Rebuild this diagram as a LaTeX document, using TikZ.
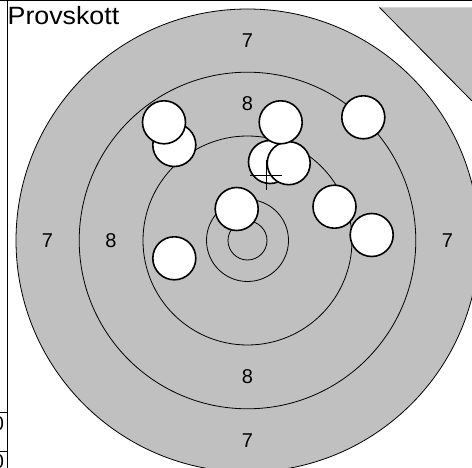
\documentclass[tikz,border=0pt]{standalone}
\usepackage{fontspec}
\setmainfont{Liberation Sans}
\definecolor{targetgrey}{RGB}{192,192,192}
\begin{document}
\begin{tikzpicture}[x=1pt,y=-1pt,
  ring/.style={draw=black,line width=0.8pt},
  shot/.style={circle,draw=black,fill=white,line width=1.6pt,minimum size=43pt,inner sep=0pt},
  ringlabel/.style={font=\fontsize{20}{20}\selectfont,inner sep=0pt},
  rule/.style={draw=black,line width=1pt},
  crossline/.style={draw=black,line width=0.9pt}]
\useasboundingbox (0,0) rectangle (472,468);
\clip (0,0) rectangle (472,468);
\fill[white] (0,0) rectangle (472,468);
% corner of neighbouring target
\fill[targetgrey] (379.5,7.5) -- (472,7.5) -- (472,101) -- cycle;
\draw[line width=0.8pt] (379.5,7.5) -- (472,101);
% target rings
\coordinate (c) at (247.5,240.5);
\filldraw[ring,fill=targetgrey] (c) circle[radius=231.5];
\draw[ring] (c) circle[radius=168.3];
\draw[ring] (c) circle[radius=104.5];
\draw[ring] (c) circle[radius=41];
\draw[ring] (c) circle[radius=19.5];
% ring labels
\node[ringlabel] (l7t) at (247.5,40.5) {7};
\node[ringlabel] (l7b) at (247.5,440.5) {7};
\node[ringlabel] (l7l) at (47.5,240.5) {7};
\node[ringlabel] (l7r) at (447.5,240.5) {7};
\node[ringlabel] (l8t) at (247.5,104) {8};
\node[ringlabel] (l8b) at (247.5,377) {8};
\node[ringlabel] (l8l) at (111,240.5) {8};
% frame lines
\draw[rule] (0,1) -- (472,1);
\draw[rule] (7.5,0) -- (7.5,468);
\draw[rule] (0,412.7) -- (7.5,412.7);
\draw[rule] (0,451) -- (7.5,451);
\node[ringlabel,anchor=base east] (z1) at (4.3,430) {0};
\node[ringlabel,anchor=base east] (z2) at (4.3,468.3) {0};
% title
\node[anchor=base west,inner sep=0pt,font=\fontsize{25}{25}\selectfont] (title) at (7.5,24.5) {\scalebox{1.07}[1]{Provskott}};
% shots
\node[shot] (s2) at (174.3,145) {};
\node[shot] (s1) at (164,122.3) {};
\node[shot] (s4) at (270,162) {};
\node[shot] (s5) at (288.7,163.2) {};
\node[shot] (s3) at (280.7,122.3) {};
\node[shot] (s6) at (236.7,209) {};
\node[shot] (s7) at (174.3,258.3) {};
\node[shot] (s8) at (334.5,206.7) {};
\node[shot] (s9) at (371.7,235) {};
\node[shot] (s10) at (363.3,117.3) {};
% aiming cross
\coordinate (cross) at (266,175);
\draw[crossline] ([xshift=-16pt]cross) -- ([xshift=16pt]cross);
\draw[crossline] ([yshift=-15pt]cross) -- ([yshift=15pt]cross);
\end{tikzpicture}
\end{document}
